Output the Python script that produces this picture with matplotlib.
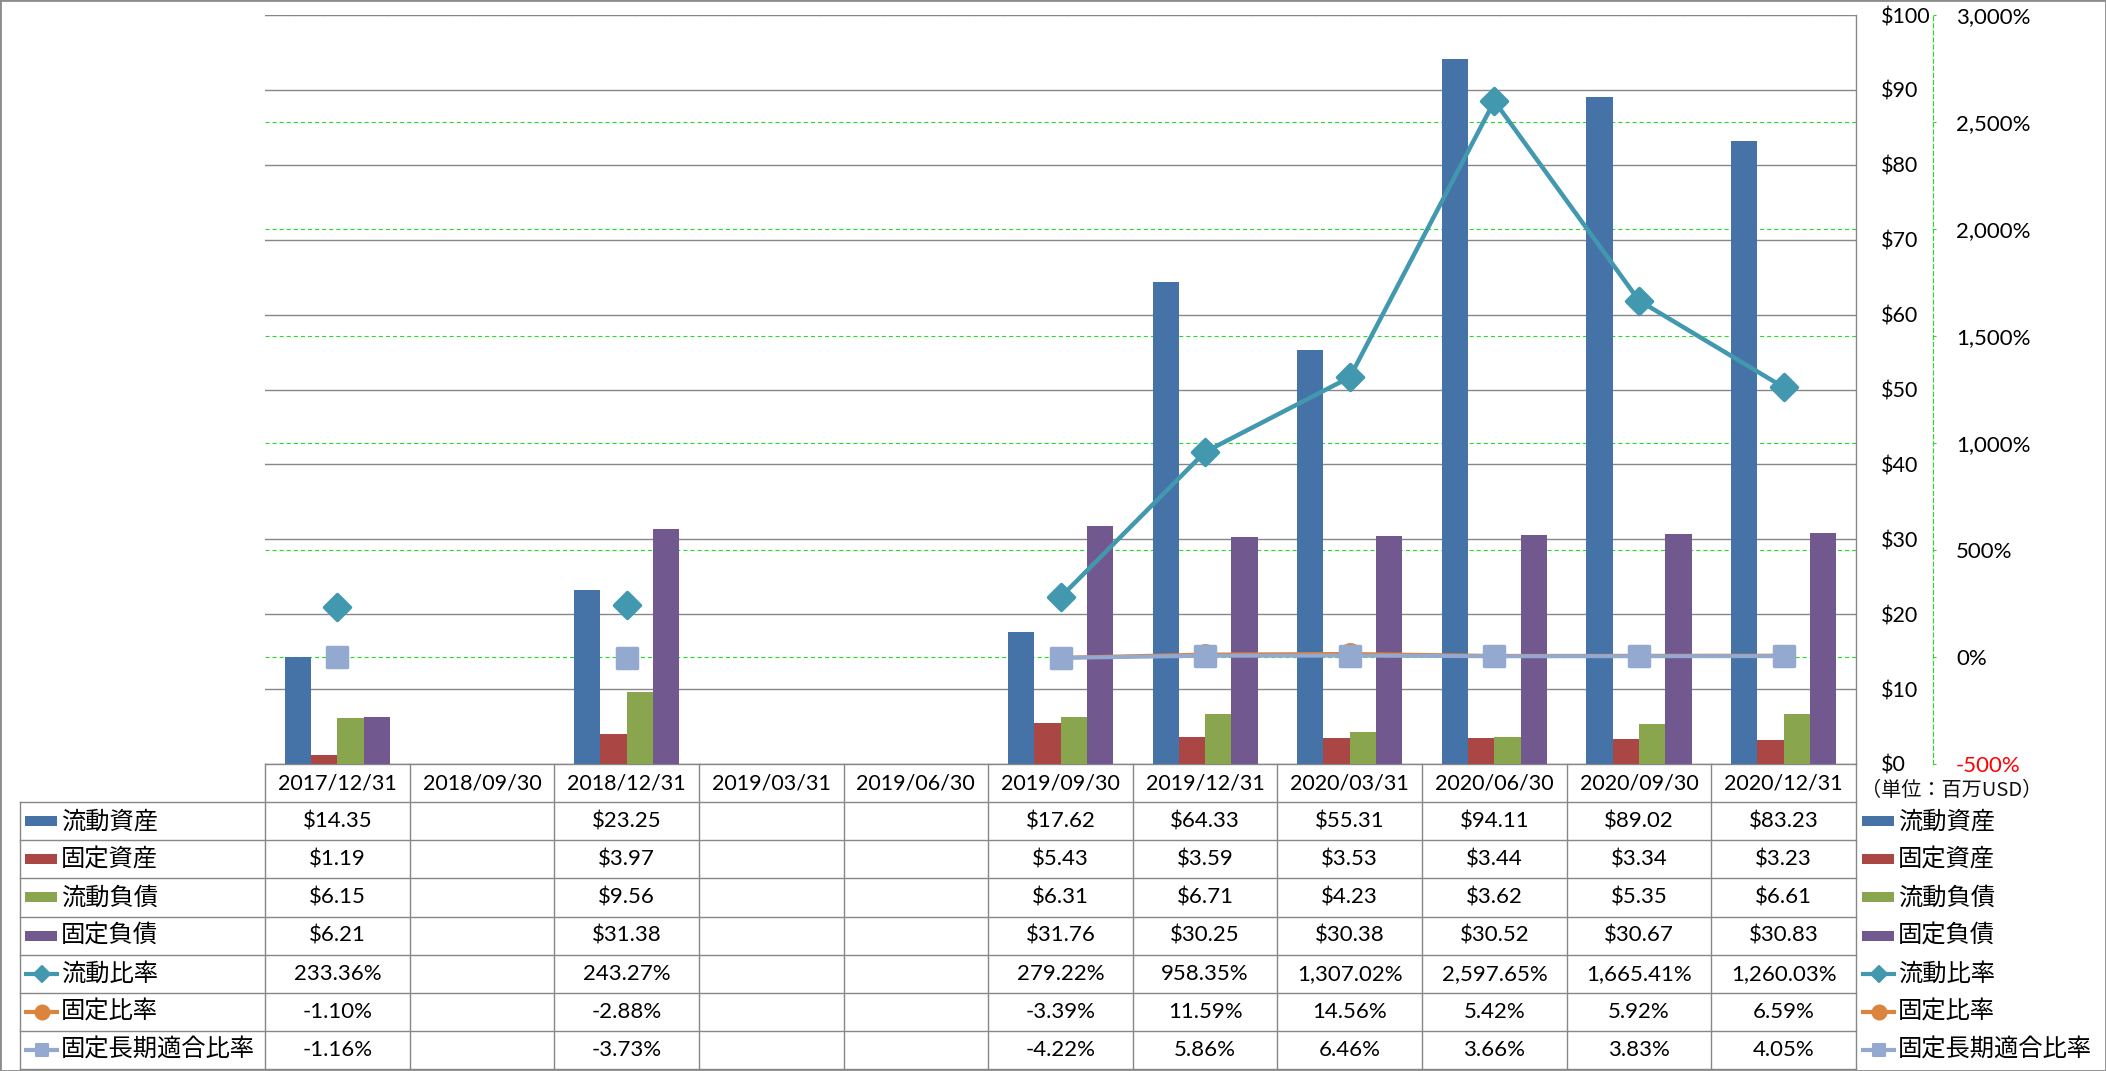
import numpy as np
import matplotlib
matplotlib.use("Agg")
import matplotlib.pyplot as plt
from matplotlib.patches import Rectangle
from matplotlib.markers import MarkerStyle
from matplotlib.transforms import blended_transform_factory

# ---------------- data ----------------
categories = ['2017/12/31', '2018/09/30', '2018/12/31', '2019/03/31', '2019/06/30',
              '2019/09/30', '2019/12/31', '2020/03/31', '2020/06/30', '2020/09/30', '2020/12/31']
nan = np.nan
current_assets = [14.35, nan, 23.25, nan, nan, 17.62, 64.33, 55.31, 94.11, 89.02, 83.23]
fixed_assets = [1.19, nan, 3.97, nan, nan, 5.43, 3.59, 3.53, 3.44, 3.34, 3.23]
current_liab = [6.15, nan, 9.56, nan, nan, 6.31, 6.71, 4.23, 3.62, 5.35, 6.61]
fixed_liab = [6.21, nan, 31.38, nan, nan, 31.76, 30.25, 30.38, 30.52, 30.67, 30.83]
current_ratio = [233.36, nan, 243.27, nan, nan, 279.22, 958.35, 1307.02, 2597.65, 1665.41, 1260.03]
fixed_ratio = [-1.10, nan, -2.88, nan, nan, -3.39, 11.59, 14.56, 5.42, 5.92, 6.59]
fixed_lt_ratio = [-1.16, nan, -3.73, nan, nan, -4.22, 5.86, 6.46, 3.66, 3.83, 4.05]

bar_names = ['流動資産', '固定資産', '流動負債', '固定負債']
line_names = ['流動比率', '固定比率', '固定長期適合比率']
usd_ticks = [0, 10, 20, 30, 40, 50, 60, 70, 80, 90, 100]
pct_ticks = [-500, 0, 500, 1000, 1500, 2000, 2500, 3000]
unit_label = '（単位：百万USD）'

# ---------------- style ----------------
bar_colors = ['#4572A7', '#AA4643', '#89A54E', '#71588F']
line_colors = ['#4198AF', '#DB843D', '#93A9CF']
line_markers = ['D', 'o', 's']
grid_gray = '#878787'
green = '#22DD22'

plt.rcParams['font.family'] = ['Lato', 'Noto Sans CJK JP', 'DejaVu Sans']
plt.rcParams['lines.scale_dashes'] = False
JP = ['Noto Sans CJK JP', 'DejaVu Sans']

W, H = 2106, 1071
L, R, T, B = 265, 1856, 15, 764
TB = 1069
fig = plt.figure(figsize=(W / 100, H / 100), dpi=100)
fig.patch.set_facecolor('white')

rect = [L / W, (H - B) / H, (R - L) / W, (B - T) / H]

# background axis for percent scale (green grid + spine)
ax2 = fig.add_axes(rect, zorder=0)
# bars axis
ax = fig.add_axes(rect, zorder=1, sharex=ax2)
ax.patch.set_visible(False)
# lines axis
ax3 = fig.add_axes(rect, zorder=2, sharex=ax2, sharey=ax2)
ax3.patch.set_visible(False)
ax3.axis('off')

x = np.arange(len(categories))
ax2.set_xlim(-0.5, len(categories) - 0.5)

# ---- bars ----
w = 1 / 5.5
series = [current_assets, fixed_assets, current_liab, fixed_liab]
for k, (vals, c) in enumerate(zip(series, bar_colors)):
    ax.bar(x + (k - 1.5) * w, vals, width=w, color=c, edgecolor='none', zorder=3)

ax.set_ylim(0, 100)
ax.set_yticks(usd_ticks, labels=[f'${v}' for v in usd_ticks])
ax.yaxis.tick_right()
ax.tick_params(axis='y', length=0, pad=18, labelsize=15.5)
ax.set_xticks([])
ax.yaxis.grid(True, color=grid_gray, lw=1.0)
ax.set_axisbelow(True)
for s in ['top', 'left']:
    ax.spines[s].set_visible(False)
for s in ['right', 'bottom']:
    ax.spines[s].set_color(grid_gray)
    ax.spines[s].set_linewidth(1.0)

# ---- percent axis ----
ax2.set_ylim(-500, 3000)
ax2.yaxis.tick_right()
ax2.set_xticks([])
ax2.tick_params(axis='y', length=2.5, width=0.8, color=green, direction='out', pad=14, labelsize=16)
ax2.set_yticks(pct_ticks, labels=[f'{v:,}%' for v in pct_ticks])
ax2.yaxis.grid(True, color=green, lw=0.8, linestyle=(0, (2.9, 2.2)))
for s in ['top', 'left', 'bottom']:
    ax2.spines[s].set_visible(False)
ax2.spines['right'].set_position(('outward', (1933 - R) * 0.72))
ax2.spines['right'].set_color(green)
ax2.spines['right'].set_linewidth(0.8)
ax2.spines['right'].set_linestyle((0, (2.9, 2.2)))

# ---- lines ----
line_series = [current_ratio, fixed_ratio, fixed_lt_ratio]
line_ms = [13, 14, 14]
line_lw = [3.2, 2.8, 2.9]
for vals, c, m, ms, lw in zip(line_series, line_colors, line_markers, line_ms, line_lw):
    ax3.plot(x, vals, color=c, lw=lw, marker=MarkerStyle(m, joinstyle='round'),
             ms=ms, mfc=c, mec=c, mew=2.5, solid_joinstyle='round', zorder=4, clip_on=False)

# ---------------- table ----------------
tax = fig.add_axes([L / W, (H - TB) / H, (R - L) / W, (TB - B) / H], zorder=1)
tax.set_xlim(-0.5, len(categories) - 0.5)
tax.set_ylim(8, 0)
tax.axis('off')
tblend = blended_transform_factory(fig.transFigure, tax.transData)
lc = grid_gray
tlw = 1.0

# vertical separators
for b in np.arange(-0.5, len(categories), 1.0):
    tax.plot([b, b], [0, 8], color=lc, lw=tlw, clip_on=False)
tax.plot([20 / W, 20 / W], [1, 8], color=lc, lw=tlw, transform=tblend, clip_on=False)
# horizontal row lines
for r in range(1, 9):
    tax.plot([20 / W, R / W], [r, r], color=lc, lw=tlw, transform=tblend, clip_on=False)

for i, cat in enumerate(categories):
    tax.text(i, 0.5, cat, ha='center', va='center', fontsize=15.5)

all_rows = [current_assets, fixed_assets, current_liab, fixed_liab,
            current_ratio, fixed_ratio, fixed_lt_ratio]
for r, vals in enumerate(all_rows):
    for i, v in enumerate(vals):
        if np.isnan(v):
            continue
        s = f'${v:,.2f}' if r < 4 else f'{v:,.2f}%'
        tax.text(i, r + 1.5, s, ha='center', va='center', fontsize=16)

# legend entries (left column of table and right legend)
names = bar_names + line_names
row_px = (TB - B) / 8
for x_left in (24, 1861):
    for r, name in enumerate(names):
        yc = r + 1.5
        if r < 4:
            tax.add_patch(Rectangle(((x_left + 1) / W, yc - 5 / row_px), 32 / W, 10 / row_px,
                                    facecolor=bar_colors[r], edgecolor='none',
                                    transform=tblend, clip_on=False))
        else:
            j = r - 4
            tax.plot([x_left / W, (x_left + 35) / W], [yc, yc], color=line_colors[j], lw=3.0,
                     transform=tblend, clip_on=False, solid_capstyle='butt')
            lms = [8.5, 10, 9][j]
            tax.plot([(x_left + 17.5) / W], [yc], color=line_colors[j],
                     marker=MarkerStyle(line_markers[j], joinstyle='round'), ms=lms,
                     mec=line_colors[j], mew=1.5, transform=tblend, clip_on=False)
        tax.text((x_left + 37) / W, yc, name, ha='left', va='center', fontsize=17.5,
                 family=JP, transform=tblend)

fig.text(1861 / W, 1 - 790 / H, unit_label, ha='left', va='center', fontsize=14.5,
         family=JP, color='#111111')

# outer frame
fig.patches.append(Rectangle((0, 0), 1, 1, transform=fig.transFigure, fill=False,
                             edgecolor='#8C8C8C', lw=2.0))

# negative percent tick in red
fig.canvas.draw()
for tick in ax2.yaxis.get_major_ticks():
    if tick.get_loc() < 0:
        tick.label1.set_color('#FF0000')
        tick.label2.set_color('#FF0000')

fig.savefig('out.png', dpi=100, facecolor='white')
